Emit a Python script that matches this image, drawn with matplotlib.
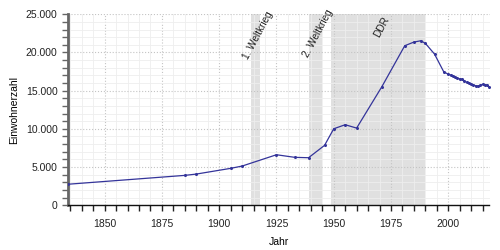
import matplotlib
matplotlib.use('Agg')
import matplotlib.pyplot as plt
from matplotlib.ticker import MultipleLocator, FuncFormatter

# Einwohnerzahl nach Jahr
years = [1834, 1885, 1890, 1905, 1910, 1925, 1933, 1939, 1946, 1950, 1955, 1960,
         1971, 1981, 1985, 1988, 1990, 1994, 1998, 2000, 2001, 2002, 2003, 2004,
         2005, 2006, 2007, 2008, 2009, 2010, 2011, 2012, 2013, 2014, 2015, 2016,
         2017, 2018]
population = [2750, 3910, 4080, 4830, 5130, 6610, 6270, 6220, 7840, 10010, 10540, 10100,
              15510, 20880, 21360, 21530, 21190, 19790, 17480, 17140, 17050, 16950, 16800, 16610,
              16550, 16480, 16300, 16090, 16000, 15860, 15750, 15640, 15600, 15700, 15820, 15780,
              15730, 15470]

# shaded periods
periods = [(1914, 1918), (1939, 1945), (1949, 1990)]
period_labels = ["1. Weltkrieg", "2. Weltkrieg", "DDR"]
label_x = [1917.0, 1943.3, 1971.0]
label_y = [25600, 25800, 24900]

plt.rcParams['font.family'] = ['Liberation Sans', 'DejaVu Sans']

fig = plt.figure(figsize=(5, 2.5), dpi=100)
ax = fig.add_axes([0.136, 0.179, 0.843, 0.764])

for (a, b) in periods:
    ax.axvspan(a, b, color='#e0e0e0', lw=0, zorder=0)

for txt, x, y in zip(period_labels, label_x, label_y):
    ax.text(x, y, txt, rotation=62, ha='center', va='top', fontsize=7.2,
            color='#222222', zorder=3)

ax.plot(years, population, color='#34349a', lw=0.9, marker='o', markersize=1.2, zorder=4)

ax.set_xlim(1834, 2018)
ax.set_ylim(0, 25000)

ax.xaxis.set_major_locator(MultipleLocator(25))
ax.xaxis.set_minor_locator(MultipleLocator(5))
ax.yaxis.set_major_locator(MultipleLocator(5000))
ax.yaxis.set_minor_locator(MultipleLocator(1000))
ax.yaxis.set_major_formatter(FuncFormatter(lambda v, p: f"{int(v):,}".replace(",", ".")))

ax.grid(which='major', color='#c4c4c4', ls=':', lw=0.8, zorder=1)
ax.grid(which='minor', color='#eeeeee', ls='-', lw=0.6, zorder=1)
ax.set_axisbelow(True)

for s in ['top', 'right']:
    ax.spines[s].set_visible(False)
ax.spines['left'].set_color('#666666')
ax.spines['left'].set_linewidth(2)
ax.spines['bottom'].set_color('#111111')
ax.spines['bottom'].set_linewidth(1)

ax.tick_params(which='both', direction='out', length=4, width=1, labelsize=7.5,
               colors='#222222')
ax.tick_params(axis='y', which='both', color='#666666')
ax.tick_params(axis='x', pad=6)

ax.set_xlabel("Jahr", fontsize=7.5, labelpad=6)
ax.set_ylabel("Einwohnerzahl", fontsize=7.5, labelpad=5)

fig.savefig('out.png', dpi=100)
